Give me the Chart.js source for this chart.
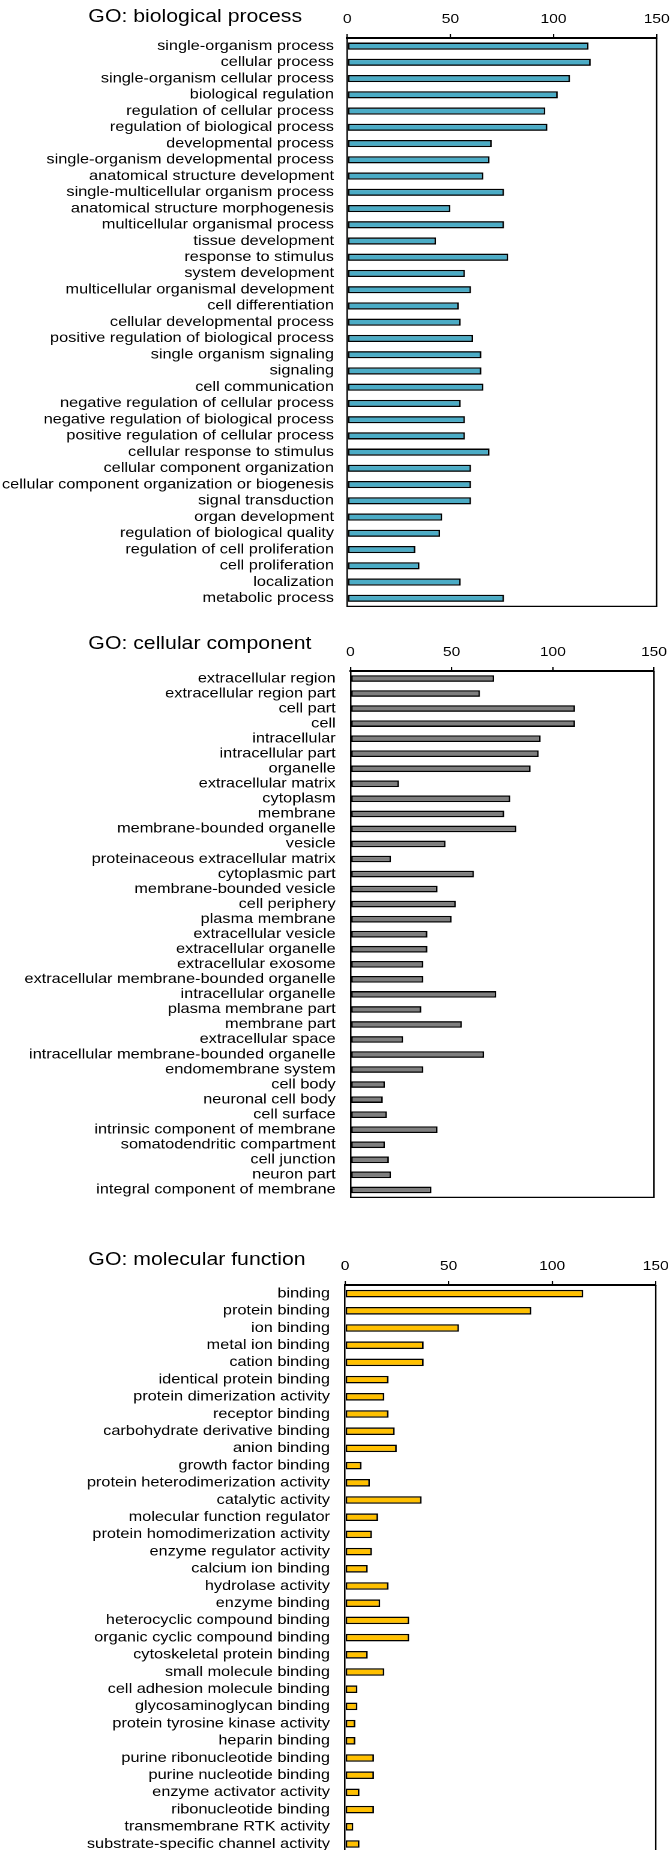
<!DOCTYPE html>
<html>
<head>
<meta charset="utf-8">
<script src="https://cdn.jsdelivr.net/npm/chart.js@4.4.1/dist/chart.umd.min.js"></script>
<style>
  html, body { margin: 0; padding: 0; background: #fff; overflow: hidden; }
  body { width: 670px; height: 1850px; position: relative; }
  /* the reference is stretched ~1.2x horizontally, so draw narrow and stretch */
  #stage { position: absolute; left: 0; top: 0; width: 558px; height: 1850px;
           transform: scaleX(1.2007); transform-origin: 0 0; }
  .panel { position: absolute; left: 0; }
  .title { position: absolute; left: 73.6px; font-family: "Liberation Sans", Arial, sans-serif;
           font-size: 17.7px; line-height: 1; color: #000; white-space: nowrap; }
</style>
</head>
<body>
<div id="stage">
  <div class="title" id="t1">GO: biological process</div>
  <div class="title" id="t2">GO: cellular component</div>
  <div class="title" id="t3">GO: molecular function</div>
  <div class="panel" id="p1"><canvas id="c1"></canvas></div>
  <div class="panel" id="p2"><canvas id="c2"></canvas></div>
  <div class="panel" id="p3"><canvas id="c3"></canvas></div>
</div>
<script>
const W = 558;
const SX = 670 / W;
const AXIS_H = 36;
const FONT = '"Liberation Sans", Arial, sans-serif';

const xTicks = [0, 50, 100, 150];

const bpLabels = [
  "single-organism process", "cellular process", "single-organism cellular process",
  "biological regulation", "regulation of cellular process", "regulation of biological process",
  "developmental process", "single-organism developmental process", "anatomical structure development",
  "single-multicellular organism process", "anatomical structure morphogenesis",
  "multicellular organismal process", "tissue development", "response to stimulus",
  "system development", "multicellular organismal development", "cell differentiation",
  "cellular developmental process", "positive regulation of biological process",
  "single organism signaling", "signaling", "cell communication",
  "negative regulation of cellular process", "negative regulation of biological process",
  "positive regulation of cellular process", "cellular response to stimulus",
  "cellular component organization", "cellular component organization or biogenesis",
  "signal transduction", "organ development", "regulation of biological quality",
  "regulation of cell proliferation", "cell proliferation", "localization", "metabolic process"
];
const bpValues = [117, 118, 108, 102, 96, 97, 70, 69, 66, 76, 50, 76, 43, 78, 57, 60, 54, 55,
  61, 65, 65, 66, 55, 57, 57, 69, 60, 60, 60, 46, 45, 33, 35, 55, 76];

const ccLabels = [
  "extracellular region", "extracellular region part", "cell part", "cell", "intracellular",
  "intracellular part", "organelle", "extracellular matrix", "cytoplasm", "membrane",
  "membrane-bounded organelle", "vesicle", "proteinaceous extracellular matrix",
  "cytoplasmic part", "membrane-bounded vesicle", "cell periphery", "plasma membrane",
  "extracellular vesicle", "extracellular organelle", "extracellular exosome",
  "extracellular membrane-bounded organelle", "intracellular organelle", "plasma membrane part",
  "membrane part", "extracellular space", "intracellular membrane-bounded organelle",
  "endomembrane system", "cell body", "neuronal cell body", "cell surface",
  "intrinsic component of membrane", "somatodendritic compartment", "cell junction",
  "neuron part", "integral component of membrane"
];
const ccValues = [71, 64, 111, 111, 94, 93, 89, 24, 79, 76, 82, 47, 20, 61, 43, 52, 50, 38,
  38, 36, 36, 72, 35, 55, 26, 66, 36, 17, 16, 18, 43, 17, 19, 20, 40];

const mfLabels = [
  "binding", "protein binding", "ion binding", "metal ion binding", "cation binding",
  "identical protein binding", "protein dimerization activity", "receptor binding",
  "carbohydrate derivative binding", "anion binding", "growth factor binding",
  "protein heterodimerization activity", "catalytic activity", "molecular function regulator",
  "protein homodimerization activity", "enzyme regulator activity", "calcium ion binding",
  "hydrolase activity", "enzyme binding", "heterocyclic compound binding",
  "organic cyclic compound binding", "cytoskeletal protein binding", "small molecule binding",
  "cell adhesion molecule binding", "glycosaminoglycan binding",
  "protein tyrosine kinase activity", "heparin binding", "purine ribonucleotide binding",
  "purine nucleotide binding", "enzyme activator activity", "ribonucleotide binding",
  "transmembrane RTK activity", "substrate-specific channel activity"
];
const mfValues = [115, 90, 55, 38, 38, 21, 19, 21, 24, 25, 8, 12, 37, 16, 13, 13, 11, 21, 17,
  31, 31, 11, 19, 6, 6, 5, 5, 14, 14, 7, 14, 4, 7];

// layout in page pixels (x before the stretch is undone)
const panels = [
  { wrap: "p1", canvas: "c1", title: "t1", labels: bpLabels, values: bpValues, color: "#4bacc6",
    top: 37.5, row: 16.24, x0: 347.3, x150: 656.7, gap: 13.3, titleY: 16.3 },
  { wrap: "p2", canvas: "c2", title: "t2", labels: ccLabels, values: ccValues, color: "#7f7f7f",
    top: 670.5, row: 15.04, x0: 350.5, x150: 654.0, gap: 14.8, titleY: 643.3 },
  { wrap: "p3", canvas: "c3", title: "t3", labels: mfLabels, values: mfValues, color: "#ffc000",
    top: 1284.5, row: 17.2, x0: 345.0, x150: 655.7, gap: 15.0, titleY: 1259.5 },
];

// right and bottom sides of the frame
const boxEdges = {
  id: "boxEdges",
  afterDraw(chart) {
    const { ctx, chartArea: a } = chart;
    ctx.save();
    ctx.strokeStyle = "#000";
    ctx.lineWidth = 1.25;
    ctx.beginPath();
    ctx.moveTo(a.right, a.top);
    ctx.lineTo(a.right, a.bottom);
    ctx.lineTo(a.left, a.bottom);
    ctx.stroke();
    ctx.restore();
  }
};

function noPad(s) {
  s.paddingLeft = 0;
  s.paddingRight = 0;
  s.paddingTop = 0;
  s.paddingBottom = 0;
}

function makeChart(p) {
  const plotH = p.labels.length * p.row;
  const h = Math.round(AXIS_H + plotH + 3);
  const wrap = document.getElementById(p.wrap);
  wrap.style.top = (p.top - AXIS_H) + "px";
  wrap.style.width = W + "px";
  wrap.style.height = h + "px";
  document.getElementById(p.title).style.top = (p.titleY - 8.65) + "px";

  const canvas = document.getElementById(p.canvas);
  canvas.width = W;
  canvas.height = h;
  canvas.style.width = W + "px";
  canvas.style.height = h + "px";

  const x0 = p.x0 / SX;
  const x150 = p.x150 / SX;

  return new Chart(canvas, {
    type: "bar",
    data: {
      labels: p.labels,
      datasets: [{
        data: p.values,
        backgroundColor: p.color,
        borderColor: "#000",
        borderWidth: 1.4,
        borderSkipped: false,
        barPercentage: 0.44,
        categoryPercentage: 1,
      }],
    },
    options: {
      indexAxis: "y",
      responsive: false,
      animation: false,
      devicePixelRatio: 2,
      layout: { padding: { left: 0, top: 0, right: W - x150, bottom: h - AXIS_H - plotH } },
      plugins: { legend: { display: false }, tooltip: { enabled: false } },
      scales: {
        x: {
          position: "top",
          min: 0,
          max: 150,
          afterBuildTicks: (s) => { s.ticks = xTicks.map((v) => ({ value: v })); },
          afterFit: (s) => { s.height = AXIS_H; noPad(s); },
          ticks: { padding: 7, color: "#000", maxRotation: 0, autoSkip: false,
                   font: { family: FONT, size: 13 } },
          grid: { display: true, drawOnChartArea: false, drawTicks: true, tickLength: 4,
                  color: "#000", lineWidth: 1.1 },
          border: { display: true, color: "#000", width: 2 },
        },
        y: {
          afterFit: (s) => { s.width = x0; noPad(s); },
          ticks: { autoSkip: false, padding: p.gap / SX, color: "#000",
                   font: { family: FONT, size: 13.6 } },
          grid: { display: false, drawTicks: false },
          border: { display: true, color: "#000", width: 1.25 },
        },
      },
    },
    plugins: [boxEdges],
  });
}

panels.forEach(makeChart);
</script>
</body>
</html>
